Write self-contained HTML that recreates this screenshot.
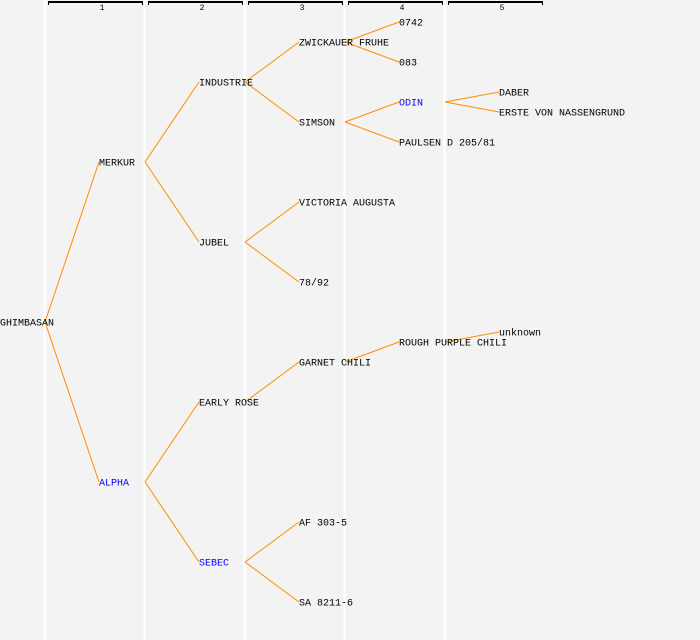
<!DOCTYPE html>
<html><head><style>body{margin:0;background:#f3f3f3}svg{display:block}</style></head><body>
<svg width="700" height="640" xmlns="http://www.w3.org/2000/svg" font-family="Liberation Mono, monospace" font-size="10">
<rect width="700" height="640" fill="#f3f3f3"/>
<g stroke="#ffffff" stroke-width="2">
<line x1="44.5" y1="0" x2="44.5" y2="640"/><line x1="144.5" y1="0" x2="144.5" y2="640"/><line x1="244.5" y1="0" x2="244.5" y2="640"/><line x1="344.5" y1="0" x2="344.5" y2="640"/><line x1="444.5" y1="0" x2="444.5" y2="640"/>
</g>
<g stroke="#000" fill="none" stroke-width="1">
<path d="M48.5,5V2H142.5V5"/><path d="M148.5,5V2H242.5V5"/><path d="M248.5,5V2H342.5V5"/><path d="M348.5,5V2H442.5V5"/><path d="M448.5,5V2H542.5V5"/>
</g>
<g stroke="#000" stroke-width="2"><line x1="48" y1="2" x2="143" y2="2"/><line x1="148" y1="2" x2="243" y2="2"/><line x1="248" y1="2" x2="343" y2="2"/><line x1="348" y1="2" x2="443" y2="2"/><line x1="448" y1="2" x2="543" y2="2"/></g>
<g font-size="8" text-anchor="middle"><text x="102" y="10">1</text><text x="202" y="10">2</text><text x="302" y="10">3</text><text x="402" y="10">4</text><text x="502" y="10">5</text></g>
<g stroke="#ff8c00" stroke-width="1" fill="none">
<path d="M45,322L99,162M45,322L99,482"/>
<path d="M145,162L199,82M145,162L199,242M145,482L199,402M145,482L199,562"/>
<path d="M245,82L299,42M245,82L299,122M245,242L299,202M245,242L299,282M245,402L299,362M245,562L299,522M245,562L299,602"/>
<path d="M345,42L399,22M345,42L399,62M345,122L399,102M345,122L399,142M345,362L399,342"/>
<path d="M445,102L499,92M445,102L499,112M445,342L499,332"/>
</g>
<g dominant-baseline="middle" fill="#000" transform="translate(0,1)">
<text x="0" y="322">GHIMBASAN</text>
<text x="99" y="162">MERKUR</text>
<text x="99" y="482" fill="#0000ff">ALPHA</text>
<text x="199" y="82">INDUSTRIE</text>
<text x="199" y="242">JUBEL</text>
<text x="199" y="402">EARLY ROSE</text>
<text x="199" y="562" fill="#0000ff">SEBEC</text>
<text x="299" y="42">ZWICKAUER FRUHE</text>
<text x="299" y="122">SIMSON</text>
<text x="299" y="202">VICTORIA AUGUSTA</text>
<text x="299" y="282">78/92</text>
<text x="299" y="362">GARNET CHILI</text>
<text x="299" y="522">AF 303-5</text>
<text x="299" y="602">SA 8211-6</text>
<text x="399" y="22">0742</text>
<text x="399" y="62">083</text>
<text x="399" y="102" fill="#0000ff">ODIN</text>
<text x="399" y="142">PAULSEN D 205/81</text>
<text x="399" y="342">ROUGH PURPLE CHILI</text>
<text x="499" y="92">DABER</text>
<text x="499" y="112">ERSTE VON NASSENGRUND</text>
<text x="499" y="332">unknown</text>
</g>
</svg>
</body></html>
